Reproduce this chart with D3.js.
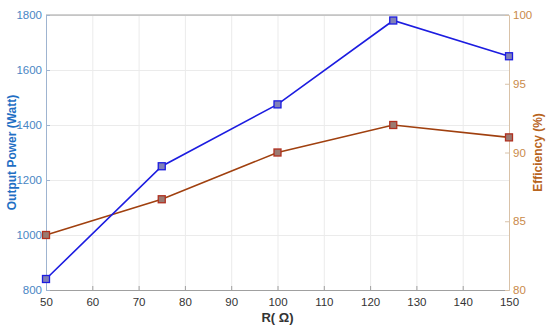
<!DOCTYPE html>
<html>
<head>
<meta charset="utf-8">
<title>Output Power and Efficiency</title>
<script src="https://cdn.jsdelivr.net/npm/d3@7"></script>
<style>
  body { margin: 0; background: #fff; }
  svg text { font-family: "Liberation Sans", Arial, sans-serif; }
  .grid line { stroke: #ebebeb; stroke-width: 1; }
  .grid path { display: none; }
</style>
</head>
<body>
<div id="chart"></div>
<script>
// data
var resistance = [50, 75, 100, 125, 150];
var outputPower = [840, 1250, 1475, 1780, 1650];
var efficiency = [84, 86.6, 90, 92, 91.1];
var xTicks = [50, 60, 70, 80, 90, 100, 110, 120, 130, 140, 150];
var powerTicks = [800, 1000, 1200, 1400, 1600, 1800];
var effTicks = [80, 85, 90, 95, 100];

var W = 550, H = 331;
var margin = {top: 15, right: 41, bottom: 41, left: 46};
var width = W - margin.left - margin.right,
    height = H - margin.top - margin.bottom;

var svg = d3.select("#chart").append("svg")
    .attr("width", W)
    .attr("height", H);

var g = svg.append("g")
    .attr("transform", "translate(" + margin.left + "," + margin.top + ")");

var x = d3.scaleLinear().domain([50, 150]).range([0, width]);
var yL = d3.scaleLinear().domain([800, 1800]).range([height, 0]);
var yR = d3.scaleLinear().domain([80, 100]).range([height, 0]);

// grid
g.append("g").attr("class", "grid")
    .attr("transform", "translate(0," + height + ")")
    .call(d3.axisBottom(x).tickValues(xTicks).tickSize(-height).tickFormat(""));
g.append("g").attr("class", "grid")
    .call(d3.axisLeft(yL).tickValues(powerTicks).tickSize(-width).tickFormat(""));

// top border
g.append("line")
    .attr("x1", 0).attr("x2", width).attr("y1", 0).attr("y2", 0)
    .attr("stroke", "#a0a0a0");

// x axis
var xa = g.append("g")
    .attr("transform", "translate(0," + height + ")")
    .call(d3.axisBottom(x).tickValues(xTicks).tickSizeInner(-4).tickSizeOuter(0).tickPadding(8));
xa.select(".domain").attr("stroke", "#a0a0a0");
xa.selectAll(".tick line").attr("stroke", "#a0a0a0");
xa.selectAll("text").attr("fill", "#333").style("font-size", "11.5px");

// left axis
var la = g.append("g")
    .call(d3.axisLeft(yL).tickValues(powerTicks).tickFormat(d3.format("d"))
        .tickSizeInner(-4).tickSizeOuter(0).tickPadding(4));
la.select(".domain").attr("stroke", "#9fb4d0");
la.selectAll(".tick line").attr("stroke", "#9fb4d0");
la.selectAll("text").attr("fill", "#4a86c4").style("font-size", "11.5px");

// right axis
var ra = g.append("g")
    .attr("transform", "translate(" + width + ",0)")
    .call(d3.axisRight(yR).tickValues(effTicks).tickSizeInner(-4).tickSizeOuter(0).tickPadding(4));
ra.select(".domain").attr("stroke", "#d9c2a8");
ra.selectAll(".tick line").attr("stroke", "#d9c2a8");
ra.selectAll("text").attr("fill", "#c98a4a").style("font-size", "11.5px");

// axis titles
svg.append("text")
    .attr("transform", "translate(12," + (margin.top + height / 2) + ") rotate(-90)")
    .attr("text-anchor", "middle")
    .attr("dy", "0.35em")
    .attr("fill", "#1f6fc4")
    .style("font-size", "12px").style("font-weight", "bold")
    .text("Output Power (Watt)");

svg.append("text")
    .attr("transform", "translate(538," + (margin.top + height / 2) + ") rotate(-90)")
    .attr("text-anchor", "middle")
    .attr("dy", "0.35em")
    .attr("fill", "#b8651e")
    .style("font-size", "12px").style("font-weight", "bold")
    .text("Efficiency (%)");

svg.append("text")
    .attr("x", margin.left + width / 2)
    .attr("y", 322)
    .attr("text-anchor", "middle")
    .attr("fill", "#333")
    .style("font-size", "13px").style("font-weight", "bold")
    .text("R( \u03A9)");

// series
var powerData = resistance.map(function(r, i) { return {x: r, y: outputPower[i]}; });
var effData = resistance.map(function(r, i) { return {x: r, y: efficiency[i]}; });

var lineL = d3.line().x(function(d) { return x(d.x); }).y(function(d) { return yL(d.y); });
var lineR = d3.line().x(function(d) { return x(d.x); }).y(function(d) { return yR(d.y); });

g.append("path").datum(effData)
    .attr("d", lineR).attr("fill", "none")
    .attr("stroke", "#a0400f").attr("stroke-width", 1.6);

g.append("path").datum(powerData)
    .attr("d", lineL).attr("fill", "none")
    .attr("stroke", "#1c1ce0").attr("stroke-width", 1.6);

var s = 7;
g.selectAll(".effpt").data(effData).enter().append("rect")
    .attr("x", function(d) { return x(d.x) - s / 2; })
    .attr("y", function(d) { return yR(d.y) - s / 2; })
    .attr("width", s).attr("height", s)
    .attr("fill", "#9a7a72").attr("stroke", "#b03020").attr("stroke-width", 1.3);

g.selectAll(".powpt").data(powerData).enter().append("rect")
    .attr("x", function(d) { return x(d.x) - s / 2; })
    .attr("y", function(d) { return yL(d.y) - s / 2; })
    .attr("width", s).attr("height", s)
    .attr("fill", "#8080b8").attr("stroke", "#1c1ce0").attr("stroke-width", 1.3);
</script>
</body>
</html>
